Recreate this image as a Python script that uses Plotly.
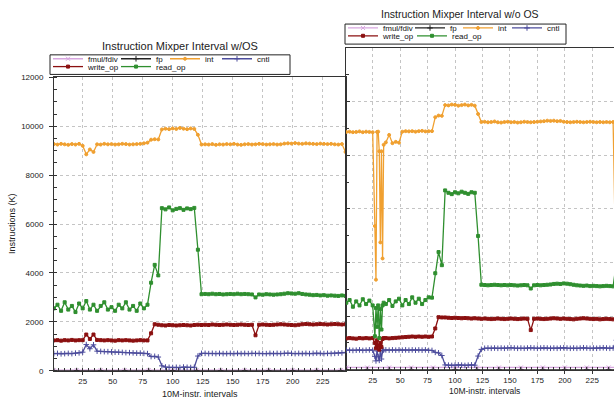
import plotly.graph_objects as go

W, H = 614, 408
FONT = "Liberation Sans"

# ---------------- data ----------------
series_names = ["fmul/fdiv", "fp", "int", "cntl", "write_op", "read_op"]
x_tick_vals = [25, 50, 75, 100, 125, 150, 175, 200, 225]
y_tick_vals = [0, 2000, 4000, 6000, 8000, 10000, 12000]

# interval index (10M-instr. intervals), sampled every 3 intervals
x_os = list(range(1, 248, 3))
x_woos = list(range(1, 26, 3)) + list(range(27, 36)) + list(range(37, 248, 3))
x_flat = [1, 20, 40, 60, 80, 100, 120, 140, 160, 180, 200, 220, 240, 247]

# ---- with OS (left chart) ----
int_os = [9270, 9250, 9280, 9260, 9240, 9270, 9250, 9280, 9200, 8850, 9050, 8950, 9260, 9250,
          9280, 9260, 9270, 9250, 9260, 9280, 9270, 9250, 9260, 9270, 9280, 9300, 9330,
          9450, 9470, 9460,
          9870, 9900, 9880, 9910, 9890, 9930, 9900, 9880, 9910, 9890,
          9650, 9250,
          9260, 9250, 9270, 9240, 9260, 9250, 9270, 9260, 9280, 9250, 9240, 9260, 9270, 9250,
          9260, 9280, 9270, 9250, 9260, 9270, 9250, 9260, 9290, 9300, 9290, 9310, 9290, 9280,
          9300, 9290, 9280, 9270, 9290, 9280, 9270, 9280, 9260, 9250, 9270, 8950, 8900]
read_os = [2550, 2700, 2450, 2800, 2500, 2650, 2400, 2750, 2550, 2850, 2500, 2700, 2450, 2650,
           2800, 2500, 2600, 2450, 2700, 2550, 2800, 2500, 2650, 2450, 2750, 2550, 2700,
           3600, 4330, 3900,
           6650, 6600, 6680, 6560, 6620, 6650, 6580, 6640, 6610, 6660,
           4950, 3130,
           3140, 3130, 3150, 3130, 3140, 3120, 3130, 3140, 3130, 3150, 3130, 3140, 3130, 3120,
           3000,
           3120, 3110, 3130, 3120, 3110, 3120, 3130, 3150, 3170, 3160, 3150, 3170, 3140, 3120,
           3110, 3090, 3100, 3080, 3090, 3070, 3080, 3070, 3060, 3080, 3060, 3050]
write_os = [1240, 1250, 1230, 1250, 1240, 1260, 1240, 1250, 1250, 1480, 1300, 1480, 1260, 1250,
            1240, 1250, 1240, 1230, 1250, 1240, 1250, 1240, 1230, 1240, 1250, 1240, 1240,
            1530, 1900, 1880,
            1860, 1850, 1870, 1860, 1850, 1860, 1870, 1860, 1850, 1870,
            1880, 1870,
            1880, 1870, 1890, 1880, 1870, 1880, 1890, 1880, 1870, 1880, 1890, 1880, 1870, 1880,
            1450,
            1880, 1890, 1880, 1870, 1880, 1890, 1900, 1890, 1880, 1870, 1860, 1880, 1900, 1910,
            1900, 1890, 1900, 1910, 1900, 1890, 1900, 1910, 1900, 1890, 1900, 1910]
cntl_os = [700, 710, 690, 700, 710, 700, 720, 730, 760, 1070, 900, 1060, 800, 790,
           780, 780, 770, 760, 760, 750, 740, 740, 730, 720, 720, 710, 700,
           580, 590, 560,
           200, 150, 140, 130, 140, 130, 150, 140, 130, 140,
           600, 710,
           710, 700, 710, 700, 710, 700, 700, 710, 700, 710, 700, 710, 700, 710, 700, 710, 700,
           700, 710, 700, 710, 700, 710, 720, 710, 700, 710, 700, 710, 700, 710, 720, 710, 700,
           710, 700, 710, 720, 730, 740, 760]
fmul_os = [20, 22, 18, 20, 25, 15, 18, 22, 20, 19, 21, 20, 22, 20]
fp_os = [5, 4, 6, 5, 5, 3, 4, 5, 6, 5, 4, 5, 5, 5]

# ---- without OS (right chart) ----
int_woos = [8870, 8880, 8860, 8870, 8890, 8860, 8880, 8870, 8860,
            5360, 3360, 8870, 8880, 8150, 4750, 8150, 4150, 8390,
            8480, 8760, 8450, 8500, 8470,
            8880, 8900, 8890, 8900, 8880, 8900, 8910, 8890, 8900, 8900,
            9420, 9480, 9470,
            9870, 9860, 9890, 9880, 9850, 9870, 9890, 9860, 9880, 9850,
            9540,
            9240, 9250, 9230, 9240, 9260, 9230, 9220, 9240, 9250, 9230, 9240, 9220, 9230, 9250,
            9240, 9230, 9240, 9250, 9260, 9270, 9290, 9280, 9290, 9270, 9280, 9250, 9240, 9230,
            9240, 9250, 9240, 9230, 9240, 9250, 9240, 9230, 9240, 9230, 9240, 9230, 9240, 2500]
read_woos = [2500, 2600, 2350, 2550, 2400, 2630, 2450, 2580, 2400,
             1250, 2300, 1600, 2400, 1180, 2270, 1500, 2400, 2500,
             2450, 2600, 2380, 2550, 2650, 2400, 2600, 2450, 2700, 2500, 2650, 2450, 2600, 2700, 2690,
             3600, 4390, 3900,
             6690, 6600, 6550, 6620, 6580, 6640, 6600, 6560, 6620, 6600,
             4990,
             3170, 3160, 3150, 3160, 3170, 3160, 3150, 3160, 3150, 3160, 3150, 3140, 3150, 3160,
             3150, 3030, 3150, 3160, 3150, 3160, 3170, 3180, 3200, 3210, 3200, 3220, 3210, 3190,
             3170, 3150, 3140, 3130, 3140, 3120, 3130, 3120, 3110, 3120, 3130, 3120, 3110, 4000]
write_woos = [1170, 1180, 1170, 1160, 1180, 1170, 1180, 1170, 1180,
              1000, 800, 1100, 900, 750, 1000, 850, 1150, 1180,
              1180, 1170, 1180, 1190, 1200, 1210, 1220, 1230, 1240, 1230, 1240, 1230, 1240, 1230, 1240,
              1540, 1960, 1950,
              1950, 1940, 1930, 1940, 1930, 1920, 1930, 1920, 1910, 1920,
              1910, 1900, 1910, 1900, 1890, 1900, 1910, 1900, 1890, 1900, 1910, 1900, 1890, 1900,
              1910, 1900,
              1480,
              1900, 1910, 1900, 1890, 1900, 1910, 1920, 1910, 1900, 1910, 1900, 1890, 1880, 1900,
              1910, 1920, 1910, 1900, 1890, 1900, 1880, 1890, 1900, 1890, 1880, 1890]
cntl_woos = [730, 730, 720, 730, 740, 720, 730, 740, 730,
             500, 330, 700, 480, 350, 720, 400, 700, 730,
             740, 730, 740, 730, 740, 730, 740, 730, 740, 730, 740, 730, 740, 720, 720,
             650, 630, 530,
             180, 170, 160, 170, 180, 170, 160, 170, 180, 170,
             510,
             760, 800, 810, 800, 810, 800, 810, 800, 810, 820, 810, 800, 810, 800, 810, 820, 810,
             800, 810, 820, 810, 800, 810, 800, 810, 820, 810, 800, 810, 800, 810, 820, 810, 800,
             810, 800, 810, 820, 810, 800, 810, 1100]
fmul_woos = [85, 84, 86, 85, 84, 80, 82, 85, 84, 86, 85, 84, 85, 85]
fp_woos = [2, 2, 3, 2, 2, 1, 2, 2, 3, 2, 2, 2, 2, 2]

# ---------------- styling ----------------
colors = {"fmul/fdiv": "#d7a6df", "fp": "#222222", "int": "#f0a030",
          "cntl": "#4c4c9c", "write_op": "#8b1010", "read_op": "#2f8f2f"}
symbols = {"fmul/fdiv": ("x-thin-open", 4), "fp": ("cross-thin-open", 4), "int": ("circle", 3),
           "cntl": ("cross-thin-open", 4), "write_op": ("square", 3), "read_op": ("square", 3)}


def px(x):
    return x / W


def py(y):
    return 1 - y / H


fig = go.Figure()

panels = [
    ("x", "y", {"fmul/fdiv": (x_flat, fmul_os), "fp": (x_flat, fp_os), "int": (x_os, int_os),
                "cntl": (x_os, cntl_os), "write_op": (x_os, write_os), "read_op": (x_os, read_os)}),
    ("x2", "y2", {"fmul/fdiv": (x_flat, fmul_woos), "fp": (x_flat, fp_woos), "int": (x_woos, int_woos),
                  "cntl": (x_woos, cntl_woos), "write_op": (x_woos, write_woos), "read_op": (x_woos, read_woos)}),
]

# legend entry positions (item start x, row y) in pixels
leg_pos = [
    {"fmul/fdiv": (48, 56), "fp": (116, 56), "int": (165, 56), "cntl": (217, 56),
     "write_op": (48, 64), "read_op": (116, 64)},
    {"fmul/fdiv": (343, 24.5), "fp": (410, 24.5), "int": (458, 24.5), "cntl": (507, 24.5),
     "write_op": (343, 32.5), "read_op": (412, 32.5)},
]

legends = {}
k = 0
for p, (xa, ya, data) in enumerate(panels):
    for name in series_names:
        k += 1
        lname = "legend" if k == 1 else "legend%d" % k
        xs, ys = data[name]
        sym, size = symbols[name]
        fig.add_trace(go.Scatter(
            x=xs, y=ys, name=name, mode="lines+markers",
            line=dict(color=colors[name], width=1.3),
            marker=dict(symbol=sym, size=size, color=colors[name],
                        line=dict(width=1, color=colors[name])),
            xaxis=xa, yaxis=ya, legend=lname, showlegend=True))
        lx, ly = leg_pos[p][name]
        legends[lname] = dict(x=px(lx), y=py(ly), xanchor="left", yanchor="middle",
                              bgcolor="rgba(0,0,0,0)", borderwidth=0, itemwidth=30,
                              font=dict(family=FONT, size=8, color="#111"))

axis_common = dict(showline=True, linecolor="#333", linewidth=1, zeroline=False,
                   showgrid=True, gridcolor="#c4c4c4", griddash="3px,3px", gridwidth=1,
                   tickfont=dict(family=FONT, size=8, color="#222"), tickcolor="#333")

fig.update_layout(
    width=W, height=H, margin=dict(l=0, r=0, t=0, b=0),
    paper_bgcolor="white", plot_bgcolor="white",
    font=dict(family=FONT, color="#222"),
    xaxis=dict(domain=[px(54), px(346)], range=[1.1, 244.4], anchor="y",
               tickvals=x_tick_vals, ticks="outside", ticklen=3, mirror=True,
               minor=dict(dtick=5, tick0=0, ticks="inside", ticklen=3, tickcolor="#333", showgrid=False),
               **axis_common),
    yaxis=dict(domain=[py(375), py(75)], range=[0, 12000], anchor="x",
               tickvals=y_tick_vals, tickformat="d", ticks="outside", ticklen=4, mirror=True,
               ticklabelstandoff=4,
               minor=dict(dtick=500, tick0=0, ticks="inside", ticklen=3, tickcolor="#333", showgrid=False),
               **axis_common),
    xaxis2=dict(domain=[px(346), 1.0], range=[0.7, 244.8], anchor="y2",
                tickvals=x_tick_vals, ticks="outside", ticklen=3, mirror=True,
                minor=dict(dtick=5, tick0=0, ticks="inside", ticklen=3, tickcolor="#333", showgrid=False),
                **axis_common),
    yaxis2=dict(domain=[py(374), py(45)], range=[0, 12000], anchor="x2",
                tickvals=y_tick_vals, ticks="inside", ticklen=4, mirror=False,
                showticklabels=False,
                minor=dict(dtick=1000, tick0=0, ticks="inside", ticklen=3, tickcolor="#333", showgrid=False),
                **axis_common),
    shapes=[
        dict(type="rect", xref="paper", yref="paper", x0=px(50), x1=px(290), y0=py(72), y1=py(52),
             line=dict(color="#222", width=1), fillcolor="rgba(0,0,0,0)"),
        dict(type="rect", xref="paper", yref="paper", x0=px(345), x1=px(566), y0=py(41), y1=py(20.5),
             line=dict(color="#222", width=1), fillcolor="rgba(0,0,0,0)"),
    ],
    annotations=[
        dict(text="Instruction Mixper Interval w/OS", x=px(180), y=py(43), xref="paper", yref="paper",
             showarrow=False, xanchor="center", yanchor="middle",
             font=dict(family=FONT, size=11, color="#222")),
        dict(text="Instruction Mixper Interval w/o OS", x=px(460), y=py(10), xref="paper", yref="paper",
             showarrow=False, xanchor="center", yanchor="middle",
             font=dict(family=FONT, size=10.5, color="#222")),
        dict(text="Instructions (K)", x=px(12), y=py(225), xref="paper", yref="paper", textangle=-90,
             showarrow=False, xanchor="center", yanchor="middle",
             font=dict(family=FONT, size=9, color="#222")),
        dict(text="10M-instr. intervals", x=px(200), y=py(399), xref="paper", yref="paper",
             showarrow=False, xanchor="center", yanchor="middle",
             font=dict(family=FONT, size=9, color="#222")),
        dict(text="10M-instr. intervals", x=px(484), y=py(396), xref="paper", yref="paper",
             showarrow=False, xanchor="center", yanchor="middle",
             font=dict(family=FONT, size=8.5, color="#222")),
    ],
)
fig.update_layout(**legends)

fig.write_html("out.html", config={"displayModeBar": False},
               post_script="document.body.style.margin='0';document.body.style.overflow='hidden';")
